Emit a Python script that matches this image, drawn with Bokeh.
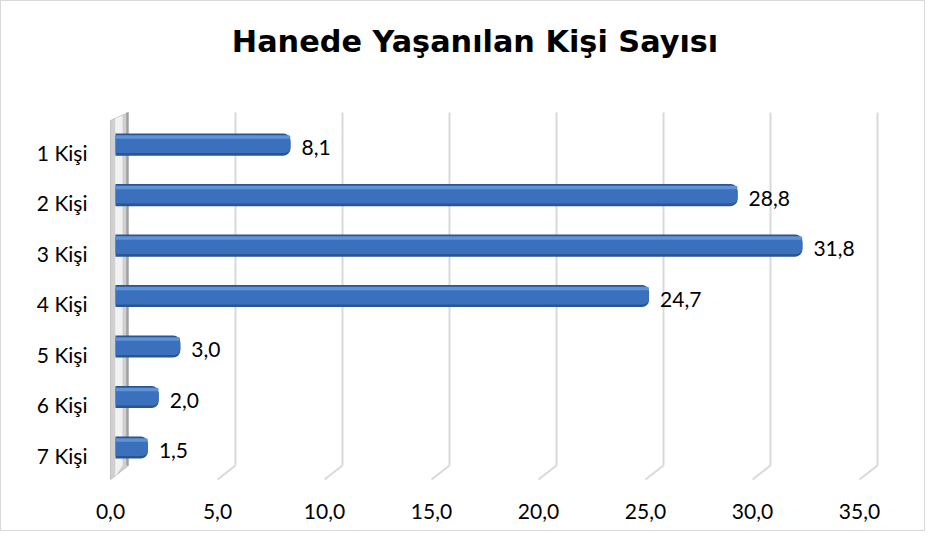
from bokeh.plotting import figure
from bokeh.models import Range1d, LinearAxis, FixedTicker, ColumnDataSource, Label
from bokeh.core.properties import value
from bokeh.embed import file_html
from bokeh.resources import INLINE

# ---- data ----
categories = ["1 Kişi", "2 Kişi", "3 Kişi", "4 Kişi", "5 Kişi", "6 Kişi", "7 Kişi"]
values = [8.1, 28.8, 31.8, 24.7, 3.0, 2.0, 1.5]
x_ticks = [0, 5, 10, 15, 20, 25, 30, 35]
title_text = "Hanede Yaşanılan Kişi Sayısı"

FONT = "Lato"
positions = list(range(len(categories)))
labels = [f"{v:.1f}".replace(".", ",") for v in values]

src = ColumnDataSource(dict(y=positions, v=values, lab=labels, cat=categories))

p = figure(width=925, height=531, output_backend="svg", toolbar_location=None,
           x_range=Range1d(-0.463, 35.6), y_range=Range1d(6.673, -2.634),
           x_axis_location=None, y_axis_location=None,
           min_border_left=104, min_border_right=42, min_border_top=10, min_border_bottom=51)
p.styles = {"border": "1px solid #d9d9d9"}
p.outline_line_color = None
p.background_fill_color = "white"
p.border_fill_color = "white"
p.grid.visible = False

# extra ranges: back wall plane (gridlines), front floor edge (tick labels), category label offset
p.extra_x_ranges = {"back": Range1d(-1.075, 35.327), "front": Range1d(-0.234, 36.168)}
p.extra_y_ranges = {"labels": Range1d(6.515, -2.792)}

# title (screen units relative to plot frame bottom-left)
title = Label(x=369.5, y=440, x_units="screen", y_units="screen", text=title_text,
              text_align="center", text_baseline="middle",
              text_font="DejaVu Sans", text_font_style="bold", text_font_size="30.3px",
              text_color="#000000")
p.add_layout(title)

# ---- back wall gridlines with 3D floor slant ----
n = len(categories)
g_top, g_bot, g_slant = -0.634, n - 0.644, n - 0.366
grid_x = [t for t in x_ticks if t > 0]
p.segment(x0=grid_x, y0=[g_top] * len(grid_x), x1=grid_x, y1=[g_bot] * len(grid_x),
          x_range_name="back", line_color="#d9d9d9", line_width=2)
p.segment(x0=grid_x, y0=[g_bot] * len(grid_x), x1=[t - 0.84 for t in grid_x], y1=[g_slant] * len(grid_x),
          x_range_name="back", line_color="#d9d9d9", line_width=2)

# ---- left wall ----
p.patch(x=[-0.84, 0.0, 0.0, -0.84], y=[g_top + 0.16, g_top, g_bot, g_slant],
        x_range_name="back", fill_color="#d0d0d0", line_color="#c0c0c0", line_width=1)
p.patch(x=[-0.62, -0.28, -0.28, -0.62], y=[g_top + 0.12, g_top + 0.06, g_bot, g_slant - 0.06],
        x_range_name="back", fill_color="#f2f2f2", line_color=None)
p.segment(x0=[-0.06], y0=[g_top], x1=[-0.06], y1=[g_bot], x_range_name="back",
          line_color="#a0a0a0", line_width=2)

# ---- bars (3D look by layering) ----
p.hbar(y="y", right="v", left=0, height=0.44, source=src,
       fill_color="#2b5592", line_color=None, border_radius=(0, 7, 7, 0))
p.hbar(y="y", right="v", left=0, height=0.34, source=src,
       fill_color="#3b70bd", line_color=None, border_radius=(0, 6, 6, 0))
hl = ColumnDataSource(dict(y=[i - 0.15 for i in positions], v=values))
p.hbar(y="y", right="v", left=0, height=0.07, source=hl,
       fill_color="#5e93d8", line_color=None, border_radius=(0, 3, 3, 0))

# value labels
p.text(x="v", y="y", text="lab", source=src, x_offset=11, y_offset=3,
       text_font=value(FONT), text_font_size="21px", text_color="#000000",
       text_baseline="middle", text_align="left")

# ---- axes ----
xa = LinearAxis(x_range_name="front", ticker=FixedTicker(ticks=x_ticks))
xa.major_label_overrides = {t: f"{t:.1f}".replace(".", ",") for t in x_ticks}
xa.axis_line_color = None
xa.major_tick_line_color = None
xa.minor_tick_line_color = None
xa.major_tick_out = 0
xa.major_tick_in = 0
xa.major_label_standoff = 22
xa.major_label_text_font = FONT
xa.major_label_text_font_size = "21px"
xa.major_label_text_color = "#000000"
p.add_layout(xa, "below")

ya = LinearAxis(y_range_name="labels", ticker=FixedTicker(ticks=positions))
ya.major_label_overrides = {i: c for i, c in zip(positions, categories)}
ya.axis_line_color = None
ya.major_tick_line_color = None
ya.minor_tick_line_color = None
ya.major_tick_out = 0
ya.major_tick_in = 0
ya.major_label_standoff = 18
ya.major_label_text_font = FONT
ya.major_label_text_font_size = "21px"
ya.major_label_text_color = "#000000"
p.add_layout(ya, "left")

open("out.html", "w").write(file_html(p, INLINE))
